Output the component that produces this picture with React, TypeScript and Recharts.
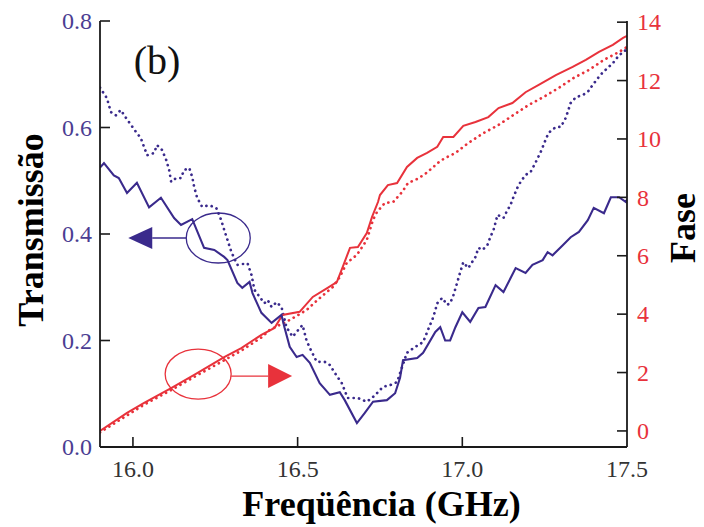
import React from 'react';
import { LineChart, Line, XAxis, YAxis, ReferenceDot, Label } from 'recharts';

// ---- Data (frequency in GHz) ----
const freqTransSolid = [15.9, 15.912, 15.942, 15.957, 15.982, 16.012, 16.049, 16.085, 16.125, 16.146, 16.18, 16.216, 16.247, 16.277, 16.287, 16.317, 16.332, 16.354, 16.363, 16.39, 16.421, 16.451, 16.46, 16.476, 16.497, 16.515, 16.537, 16.567, 16.598, 16.628, 16.643, 16.68, 16.704, 16.729, 16.771, 16.796, 16.811, 16.82, 16.863, 16.881, 16.918, 16.933, 16.948, 16.963, 16.979, 17.0, 17.024, 17.049, 17.07, 17.101, 17.125, 17.162, 17.192, 17.213, 17.244, 17.259, 17.274, 17.305, 17.329, 17.354, 17.381, 17.399, 17.43, 17.451, 17.476, 17.497, 17.5];
const transSolid = [0.525, 0.533, 0.51, 0.505, 0.477, 0.496, 0.45, 0.468, 0.43, 0.417, 0.428, 0.374, 0.37, 0.357, 0.351, 0.308, 0.299, 0.31, 0.289, 0.252, 0.233, 0.248, 0.225, 0.188, 0.169, 0.173, 0.158, 0.12, 0.098, 0.103, 0.088, 0.045, 0.064, 0.085, 0.088, 0.101, 0.13, 0.163, 0.167, 0.177, 0.216, 0.225, 0.2, 0.2, 0.225, 0.253, 0.235, 0.261, 0.263, 0.304, 0.291, 0.336, 0.327, 0.342, 0.351, 0.366, 0.36, 0.379, 0.394, 0.404, 0.426, 0.449, 0.439, 0.469, 0.469, 0.46, 0.465];

const freqTransDotted = [15.9, 15.921, 15.933, 15.948, 15.963, 15.979, 15.994, 16.009, 16.024, 16.034, 16.043, 16.064, 16.073, 16.088, 16.101, 16.11, 16.116, 16.131, 16.146, 16.155, 16.171, 16.18, 16.186, 16.195, 16.21, 16.232, 16.253, 16.268, 16.277, 16.287, 16.299, 16.317, 16.348, 16.36, 16.369, 16.399, 16.409, 16.421, 16.436, 16.451, 16.466, 16.485, 16.506, 16.515, 16.527, 16.537, 16.558, 16.582, 16.598, 16.613, 16.634, 16.652, 16.683, 16.71, 16.729, 16.744, 16.759, 16.78, 16.802, 16.817, 16.832, 16.857, 16.881, 16.896, 16.912, 16.924, 16.939, 16.954, 16.963, 16.973, 16.985, 16.994, 17.003, 17.018, 17.04, 17.049, 17.061, 17.076, 17.085, 17.095, 17.107, 17.125, 17.137, 17.146, 17.155, 17.168, 17.177, 17.192, 17.207, 17.223, 17.238, 17.253, 17.262, 17.284, 17.299, 17.314, 17.329, 17.345, 17.366, 17.381, 17.396, 17.412, 17.427, 17.442, 17.46, 17.476, 17.491, 17.5];
const transDotted = [0.675, 0.655, 0.629, 0.623, 0.633, 0.618, 0.605, 0.592, 0.58, 0.563, 0.548, 0.552, 0.567, 0.558, 0.539, 0.52, 0.498, 0.505, 0.505, 0.52, 0.524, 0.507, 0.488, 0.468, 0.451, 0.454, 0.449, 0.426, 0.408, 0.389, 0.366, 0.342, 0.345, 0.323, 0.295, 0.27, 0.276, 0.263, 0.272, 0.263, 0.225, 0.207, 0.223, 0.229, 0.2, 0.186, 0.16, 0.16, 0.154, 0.139, 0.12, 0.092, 0.092, 0.085, 0.094, 0.103, 0.113, 0.116, 0.122, 0.15, 0.177, 0.188, 0.197, 0.22, 0.244, 0.27, 0.28, 0.267, 0.27, 0.285, 0.31, 0.329, 0.347, 0.336, 0.357, 0.374, 0.37, 0.379, 0.394, 0.408, 0.436, 0.43, 0.445, 0.454, 0.469, 0.488, 0.498, 0.511, 0.516, 0.535, 0.554, 0.577, 0.59, 0.601, 0.601, 0.618, 0.646, 0.657, 0.661, 0.667, 0.68, 0.693, 0.704, 0.712, 0.723, 0.736, 0.742, 0.749];

const freqPhaseSolid = [15.9, 15.982, 16.034, 16.116, 16.186, 16.277, 16.329, 16.39, 16.43, 16.454, 16.506, 16.546, 16.591, 16.619, 16.637, 16.659, 16.683, 16.71, 16.726, 16.744, 16.75, 16.774, 16.802, 16.832, 16.863, 16.893, 16.924, 16.942, 16.973, 17.003, 17.04, 17.079, 17.11, 17.152, 17.192, 17.232, 17.284, 17.335, 17.375, 17.415, 17.457, 17.488, 17.5];
const phaseSolid = [0.0, 0.62, 0.96, 1.47, 1.92, 2.53, 2.84, 3.29, 3.53, 3.97, 4.08, 4.59, 4.9, 5.1, 5.62, 6.27, 6.3, 6.78, 7.33, 7.84, 8.08, 8.42, 8.49, 9.04, 9.35, 9.52, 9.73, 10.07, 10.07, 10.45, 10.58, 10.75, 11.06, 11.23, 11.6, 11.85, 12.19, 12.47, 12.71, 12.98, 13.22, 13.46, 13.53];

const freqPhaseDotted = [15.9, 16.034, 16.116, 16.186, 16.277, 16.329, 16.39, 16.415, 16.476, 16.527, 16.567, 16.607, 16.628, 16.649, 16.68, 16.71, 16.729, 16.741, 16.765, 16.79, 16.817, 16.835, 16.863, 16.887, 16.912, 16.933, 16.954, 16.979, 17.018, 17.064, 17.11, 17.155, 17.201, 17.247, 17.293, 17.338, 17.384, 17.43, 17.476, 17.5];
const phaseDotted = [-0.05, 0.9, 1.4, 1.85, 2.42, 2.75, 3.2, 3.46, 3.8, 4.14, 4.55, 4.93, 5.27, 5.75, 6.03, 6.54, 7.23, 7.5, 7.81, 7.84, 8.18, 8.49, 8.63, 8.8, 9.04, 9.25, 9.38, 9.52, 9.86, 10.2, 10.48, 10.82, 11.16, 11.44, 11.75, 12.09, 12.36, 12.71, 12.98, 13.15];

const bottomTicks = [16, 16.5, 17, 17.5];
const topTicks = [16, 16.5, 17];
const leftTicks = [0, 0.2, 0.4, 0.6, 0.8];
const rightTicks = [0, 2, 4, 6, 8, 10, 12, 14];

// annotation anchors (data coordinates)
const panelLabel = { f: 16.073, t: 0.72, text: '(b)' };
const blueMarker = { f: 16.259, t: 0.3925 };
const redMarker = { f: 16.198, t: 0.137 };

const BLUE = '#3a2a8c';
const BLUE_T = '#4b3d92';
const RED = '#e8323b';
const AXIS = '#1a1a1a';
const SERIF = '"Liberation Serif", "Times New Roman", Times, "DejaVu Serif", serif';
const serifStyle: React.CSSProperties = { fontFamily: SERIF };

const zip = (xs: number[], ys: number[]) => xs.map((f, i) => ({ f, v: ys[i] }));

const LeftTick = (p: any) => {
  const { x, y, payload } = p;
  return (
    <g>
      <line x1={x} x2={x + 10} y1={y} y2={y} stroke={AXIS} strokeWidth={1.6} />
      <text x={x - 8} y={y} dy="0.34em" textAnchor="end" fill={BLUE_T} fontSize={24} style={serifStyle}>
        {Number(payload.value).toFixed(1)}
      </text>
    </g>
  );
};

const RightTick = (p: any) => {
  const { x, y, payload } = p;
  return (
    <g>
      <line x1={x - 10} x2={x} y1={y} y2={y} stroke={AXIS} strokeWidth={1.6} />
      <text x={x + 10} y={y} dy="0.34em" textAnchor="start" fill={RED} fontSize={24} style={serifStyle}>
        {String(payload.value)}
      </text>
    </g>
  );
};

const BottomTick = (p: any) => {
  const { x, y, payload } = p;
  const v = Number(payload.value);
  return (
    <g>
      {v < 17.5 && <line x1={x} x2={x} y1={y - 10} y2={y} stroke={AXIS} strokeWidth={1.6} />}
      <text x={x} y={y + 30} textAnchor="middle" fill="#333" fontSize={24} style={serifStyle}>
        {v.toFixed(1)}
      </text>
    </g>
  );
};

const TopTick = (p: any) => {
  const { x, y } = p;
  return <line x1={x} x2={x} y1={y} y2={y + 10} stroke={AXIS} strokeWidth={1.6} />;
};

const BlueMarkerShape = (p: any) => {
  const { cx, cy } = p;
  return (
    <g>
      <ellipse cx={cx} cy={cy} rx={32} ry={25} fill="none" stroke={BLUE} strokeWidth={1.3} />
      <line x1={cx - 32} x2={cx - 66} y1={cy} y2={cy} stroke={BLUE} strokeWidth={1.3} />
      <polygon points={`${cx - 90},${cy} ${cx - 66},${cy - 11} ${cx - 66},${cy + 11}`} fill={BLUE} />
    </g>
  );
};

const RedMarkerShape = (p: any) => {
  const { cx, cy } = p;
  return (
    <g>
      <ellipse cx={cx} cy={cy} rx={33} ry={25} fill="none" stroke={RED} strokeWidth={1.3} />
      <line x1={cx + 33} x2={cx + 70} y1={cy + 2} y2={cy + 2} stroke={RED} strokeWidth={1.3} />
      <polygon points={`${cx + 94},${cy + 2} ${cx + 70},${cy - 10} ${cx + 70},${cy + 14}`} fill={RED} />
    </g>
  );
};

const PanelLabelShape = (p: any) => {
  const { cx, cy } = p;
  return (
    <text x={cx} y={cy + 10} textAnchor="middle" fontSize={40} style={serifStyle} fill="#111">
      {panelLabel.text}
    </text>
  );
};

const titleStyle: React.CSSProperties = { fontFamily: SERIF, fontWeight: 700, fontSize: 36 };

export default function App() {
  return (
    <div style={{ position: 'absolute', left: 0, top: 0, width: 704, height: 527, background: '#fff', fontFamily: SERIF }}>
      <LineChart width={704} height={527} margin={{ top: 21, right: 0, bottom: 0, left: 0 }} style={serifStyle}>
        <XAxis
          xAxisId="b"
          dataKey="f"
          type="number"
          domain={[15.9, 17.5]}
          allowDataOverflow
          ticks={bottomTicks}
          interval={0}
          height={80}
          tickSize={0}
          tickMargin={0}
          tickLine={false}
          tick={BottomTick}
          axisLine={{ stroke: AXIS, strokeWidth: 1.8 }}
        >
          <Label
            content={(lp: any) => {
              const vb = lp.viewBox || { x: 100, y: 447, width: 527, height: 80 };
              return (
                <text x={vb.x + vb.width / 2 + 18} y={vb.y + 69} textAnchor="middle" style={titleStyle} fill="#000">
                  Freqüência (GHz)
                </text>
              );
            }}
          />
        </XAxis>
        <XAxis
          xAxisId="t"
          orientation="top"
          dataKey="f"
          type="number"
          domain={[15.9, 17.5]}
          allowDataOverflow
          ticks={topTicks}
          interval={0}
          height={0}
          tickSize={0}
          tickMargin={0}
          tickLine={false}
          tick={TopTick}
          axisLine={{ stroke: AXIS, strokeWidth: 1.8 }}
        />
        <YAxis
          yAxisId="l"
          orientation="left"
          type="number"
          domain={[0, 0.8]}
          allowDataOverflow
          ticks={leftTicks}
          interval={0}
          width={100}
          tickSize={0}
          tickMargin={0}
          tickLine={false}
          tick={LeftTick}
          axisLine={{ stroke: AXIS, strokeWidth: 1.8 }}
        >
          <Label
            content={(lp: any) => {
              const vb = lp.viewBox || { x: 0, y: 21, width: 100, height: 426 };
              const cx = vb.x + 43;
              const cy = vb.y + vb.height / 2 - 4;
              return (
                <text transform={`translate(${cx},${cy}) rotate(-90)`} textAnchor="middle" style={titleStyle} fill="#000">
                  Transmissão
                </text>
              );
            }}
          />
        </YAxis>
        <YAxis
          yAxisId="r"
          orientation="right"
          type="number"
          domain={[-0.55, 14.04]}
          allowDataOverflow
          ticks={rightTicks}
          interval={0}
          width={77}
          tickSize={0}
          tickMargin={0}
          tickLine={false}
          tick={RightTick}
          axisLine={{ stroke: AXIS, strokeWidth: 1.8 }}
        >
          <Label
            content={(lp: any) => {
              const vb = lp.viewBox || { x: 627, y: 21, width: 77, height: 426 };
              const cx = vb.x + 68;
              const cy = vb.y + vb.height / 2 - 6;
              return (
                <text transform={`translate(${cx},${cy}) rotate(-90)`} textAnchor="middle" style={titleStyle} fill="#000">
                  Fase
                </text>
              );
            }}
          />
        </YAxis>

        <Line
          xAxisId="b"
          yAxisId="r"
          data={zip(freqPhaseDotted, phaseDotted)}
          dataKey="v"
          type="linear"
          stroke={RED}
          strokeWidth={2.7}
          strokeDasharray="0.1 5.4"
          strokeLinecap="round"
          dot={false}
          activeDot={false}
          isAnimationActive={false}
        />
        <Line
          xAxisId="b"
          yAxisId="l"
          data={zip(freqTransDotted, transDotted)}
          dataKey="v"
          type="linear"
          stroke={BLUE}
          strokeWidth={2.7}
          strokeDasharray="0.1 5.4"
          strokeLinecap="round"
          dot={false}
          activeDot={false}
          isAnimationActive={false}
        />
        <Line
          xAxisId="b"
          yAxisId="r"
          data={zip(freqPhaseSolid, phaseSolid)}
          dataKey="v"
          type="linear"
          stroke={RED}
          strokeWidth={2}
          dot={false}
          activeDot={false}
          isAnimationActive={false}
        />
        <Line
          xAxisId="b"
          yAxisId="l"
          data={zip(freqTransSolid, transSolid)}
          dataKey="v"
          type="linear"
          stroke={BLUE}
          strokeWidth={2.1}
          dot={false}
          activeDot={false}
          isAnimationActive={false}
        />

        <ReferenceDot xAxisId="b" yAxisId="l" x={blueMarker.f} y={blueMarker.t} r={0} shape={BlueMarkerShape} />
        <ReferenceDot xAxisId="b" yAxisId="l" x={redMarker.f} y={redMarker.t} r={0} shape={RedMarkerShape} />
        <ReferenceDot xAxisId="b" yAxisId="l" x={panelLabel.f} y={panelLabel.t} r={0} shape={PanelLabelShape} />
      </LineChart>
    </div>
  );
}
